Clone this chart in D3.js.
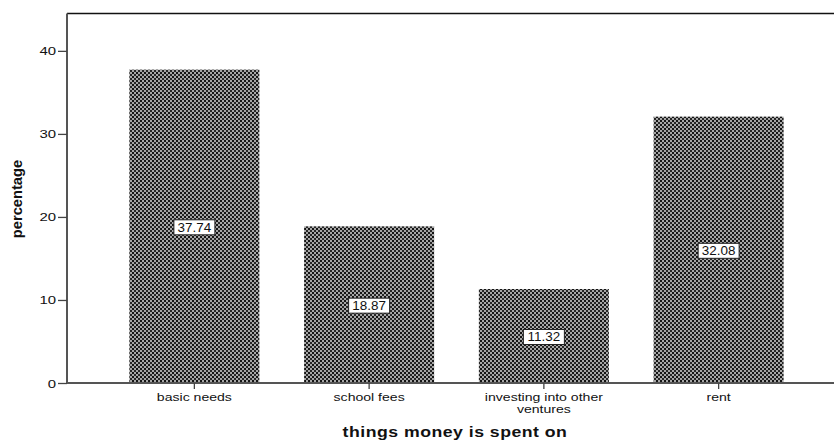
<!DOCTYPE html>
<html>
<head>
<meta charset="utf-8">
<script src="https://cdn.jsdelivr.net/npm/d3@7"></script>
<style>
  html, body { margin: 0; padding: 0; background: #fff; }
  svg { display: block; }
  text { font-family: "Liberation Sans", Arial, sans-serif; fill: #111; }
</style>
</head>
<body>
<svg id="chart" width="834" height="440"></svg>
<script>
// Share of money by use
const categories = ["basic needs", "school fees", "investing into other ventures", "rent"];
const values = [37.74, 18.87, 11.32, 32.08];
const yTicks = [0, 10, 20, 30, 40];
const categoryLines = [["basic needs"], ["school fees"], ["investing into other", "ventures"], ["rent"]];

const plot = { left: 67, right: 834, top: 13.5, bottom: 383 };
const stretch = 1.3; // horizontal widening of glyphs

const svg = d3.select("#chart");

// Fine checkered fill for the bars
const defs = svg.append("defs");
const pat = defs.append("pattern")
  .attr("id", "checks")
  .attr("patternUnits", "userSpaceOnUse")
  .attr("width", 4).attr("height", 4);
pat.append("rect").attr("width", 4).attr("height", 4).attr("fill", "#8c8c8c");
pat.append("rect").attr("x", 0).attr("y", 0).attr("width", 2).attr("height", 2).attr("fill", "#141414");
pat.append("rect").attr("x", 2).attr("y", 2).attr("width", 2).attr("height", 2).attr("fill", "#262626");
pat.append("rect").attr("x", 2.5).attr("y", 0.5).attr("width", 1).attr("height", 1).attr("fill", "#f4f4f4");
pat.append("rect").attr("x", 0.5).attr("y", 2.5).attr("width", 1).attr("height", 1).attr("fill", "#f4f4f4");

const x = d3.scaleBand()
  .domain(categories)
  .range([107, 806])
  .paddingInner(0.256)
  .paddingOuter(0.128);

const y = d3.scaleLinear()
  .domain([0, 44.5])
  .range([plot.bottom, plot.top]);

// Frame: top rule
svg.append("line")
  .attr("x1", plot.left).attr("x2", plot.right)
  .attr("y1", plot.top).attr("y2", plot.top)
  .attr("stroke", "#111").attr("stroke-width", 1.5);

// Bars
svg.append("g").selectAll("rect")
  .data(values)
  .join("rect")
  .attr("x", (d, i) => x(categories[i]))
  .attr("width", x.bandwidth())
  .attr("y", d => y(d))
  .attr("height", d => y(0) - y(d))
  .attr("fill", "url(#checks)");

// Y axis
const yAxis = d3.axisLeft(y).tickValues(yTicks).tickSize(9).tickPadding(2).tickFormat(d3.format("d"));
const gy = svg.append("g").attr("transform", `translate(${plot.left},0)`).call(yAxis);
gy.select(".domain").attr("stroke", "#555").attr("stroke-width", 2)
  .attr("d", `M0,${plot.top}V${plot.bottom}`);
gy.selectAll(".tick line").attr("stroke", "#444").attr("stroke-width", 1.3);
gy.selectAll(".tick text").each(function () {
  const t = d3.select(this);
  const tx = +t.attr("x");
  t.attr("x", null).attr("dy", null)
   .attr("transform", `translate(${tx},4) scale(${stretch},1)`)
   .attr("font-size", 11.5).attr("fill", "#222")
   .attr("font-family", "'Liberation Sans', Arial, sans-serif");
});

// X axis
const xAxis = d3.axisBottom(x).tickSize(6).tickFormat("");
const gx = svg.append("g").attr("transform", `translate(0,${plot.bottom})`).call(xAxis);
gx.select(".domain").attr("stroke", "#555").attr("stroke-width", 2)
  .attr("d", `M${plot.left},0H${plot.right}`);
gx.selectAll(".tick line").attr("stroke", "#444").attr("stroke-width", 1.3);

// Category labels (long names wrap onto a second line)
categories.forEach((c, i) => {
  const cx = x(c) + x.bandwidth() / 2;
  categoryLines[i].forEach((line, k) => {
    svg.append("text")
      .attr("transform", `translate(${cx},${401 + k * 12.2}) scale(${stretch + 0.04},1)`)
      .attr("text-anchor", "middle")
      .attr("font-size", 10.5)
      .attr("fill", "#222")
      .text(line);
  });
});

// Value labels in white boxes at mid-bar
values.forEach((v, i) => {
  const cx = x(categories[i]) + x.bandwidth() / 2;
  const cy = (y(v) + y(0)) / 2 + 1;
  const g = svg.append("g").attr("transform", `translate(${cx},${cy})`);
  const bw = 41, bh = 15;
  g.append("rect")
    .attr("x", -bw / 2).attr("y", -bh / 2)
    .attr("width", bw).attr("height", bh)
    .attr("fill", "#fff").attr("stroke", "#222").attr("stroke-width", 1);
  g.append("text")
    .attr("transform", `translate(0,4.2) scale(1.12,1)`)
    .attr("text-anchor", "middle")
    .attr("font-size", 12)
    .attr("fill", "#222")
    .text(d3.format(".2f")(v));
});

// Axis titles
svg.append("text")
  .attr("transform", `translate(22,199) rotate(-90) scale(1.05,1)`)
  .attr("text-anchor", "middle")
  .attr("font-size", 14)
  .attr("font-weight", "bold")
  .attr("fill", "#111")
  .text("percentage");

svg.append("text")
  .attr("transform", `translate(455,437) scale(1.22,1)`)
  .attr("text-anchor", "middle")
  .attr("font-family", "'DejaVu Sans', Verdana, sans-serif")
  .attr("font-size", 14.5)
  .attr("font-weight", "bold")
  .attr("letter-spacing", 0.4)
  .attr("fill", "#111")
  .text("things money is spent on");
</script>
</body>
</html>
